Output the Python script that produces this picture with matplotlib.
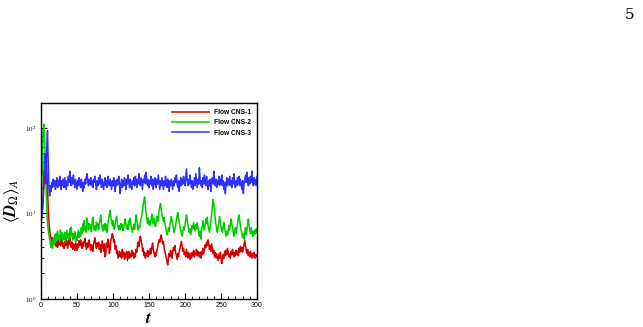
import numpy as np
import matplotlib
matplotlib.use("Agg")
import matplotlib.pyplot as plt
from matplotlib.ticker import LogLocator, MultipleLocator, FixedLocator

t = np.arange(0, 301, 1)

cns1 = [8, 9, 11, 14, 20, 28, 36, 42, 33, 20,
        12, 8, 6.5, 5.6, 5.0, 4.6, 5.2, 4.3, 4.9, 4.4,
        5.3, 4.1, 4.7, 4.0, 4.8, 4.3, 5.1, 4.2, 4.6, 5.4,
        4.1, 4.5, 3.9, 4.7, 4.2, 5.0, 4.4, 3.9, 4.8, 4.3,
        5.2, 4.5, 4.0, 4.6, 3.8, 4.4, 4.1, 3.7, 4.5, 4.0,
        3.7, 4.4, 4.0, 4.8, 4.2, 4.9, 4.3, 3.9, 4.6, 4.1,
        4.7, 5.1, 4.4, 3.8, 4.5, 4.0, 4.6, 4.9, 4.2, 3.7,
        4.3, 3.9, 3.6, 4.4, 4.8, 5.2, 4.3, 3.9, 4.5, 4.1,
        4.6, 3.8, 4.3, 3.5, 3.9, 4.8, 4.2, 3.6, 4.4, 3.1,
        3.4, 4.5, 4.0, 5.0, 4.4, 3.4, 3.8, 4.9, 5.2, 5.8,
        5.5, 4.6, 4.9, 3.8, 4.2, 3.4, 3.7, 3.0, 3.3, 3.6,
        3.1, 3.5, 3.0, 3.8, 3.2, 3.5, 2.9, 3.4, 3.1, 3.6,
        2.8, 3.2, 3.6, 3.0, 3.4, 3.1, 3.7, 3.2, 3.5, 3.0,
        3.4, 3.1, 3.8, 3.5, 4.2, 4.6, 4.1, 4.9, 5.4, 4.8,
        4.4, 3.6, 3.9, 3.2, 3.5, 3.0, 3.4, 3.2, 3.7, 3.1,
        3.6, 3.3, 3.9, 3.4, 4.1, 4.5, 3.8, 3.4, 3.1, 3.5,
        3.2, 3.7, 4.0, 4.5, 4.9, 4.6, 5.3, 5.6, 5.0, 4.4,
        4.7, 4.0, 3.6, 3.3, 3.0, 2.7, 2.5, 3.0, 3.4, 3.1,
        3.7, 3.3, 3.0, 3.6, 4.0, 3.7, 4.2, 3.5, 3.2, 2.9,
        3.4, 3.1, 3.6, 3.9, 4.3, 4.7, 4.1, 3.6, 3.9, 3.3,
        3.5, 3.1, 3.8, 3.3, 3.0, 3.5, 3.2, 2.9, 3.4, 3.0,
        3.5, 3.2, 3.7, 3.1, 3.5, 3.3, 3.8, 3.2, 3.6, 3.4,
        3.1, 3.5, 3.0, 3.6, 3.3, 3.9, 3.4, 3.8, 4.3, 4.0,
        4.6, 4.2, 4.9, 4.4, 3.8, 4.2, 3.6, 4.4, 3.9, 3.4,
        3.7, 3.1, 3.5, 3.0, 3.4, 3.1, 2.8, 3.3, 3.0, 3.5,
        3.1, 2.6, 2.9, 3.3, 3.0, 3.6, 3.2, 3.7, 3.3, 3.9,
        3.5, 3.1, 3.4, 3.0, 3.6, 3.3, 3.8, 3.4, 3.1, 3.5,
        3.2, 3.7, 3.3, 3.6, 3.2, 3.9, 3.5, 4.1, 3.6, 4.0,
        3.5, 3.9, 4.4, 4.8, 4.2, 3.7, 3.4, 3.8, 3.2, 3.5,
        3.1, 3.6, 3.3, 3.0, 3.4, 3.1, 3.5, 3.0, 3.3, 3.1,
        3.3]

cns2 = [10, 20, 45, 90, 110, 75, 40, 20, 12, 8,
        6.5, 5.5, 5.0, 4.4, 4.0, 4.6, 3.9, 5.0, 4.3, 5.6,
        4.6, 5.8, 4.8, 6.2, 5.0, 5.5, 4.7, 6.4, 5.2, 5.9,
        4.8, 5.6, 5.0, 6.0, 4.6, 5.4, 6.3, 5.1, 5.8, 4.9,
        6.6, 5.4, 6.9, 5.6, 4.9, 5.8, 5.1, 6.1, 4.6, 5.3,
        4.8, 5.7, 6.3, 5.2, 6.0, 5.4, 6.8, 5.8, 7.5, 6.2,
        8.2, 6.5, 7.0, 6.0, 8.8, 7.2, 6.4, 7.6, 6.6, 7.3,
        6.1, 7.8, 9.0, 7.2, 6.4, 7.1, 6.3, 7.9, 6.8, 7.5,
        6.4, 7.6, 8.5, 9.5, 7.8, 6.9, 6.2, 7.3, 6.5, 7.6,
        6.3, 7.4, 6.0, 7.8, 8.6, 9.8, 10.8, 9.0, 8.0, 7.2,
        8.2, 7.0, 6.5, 7.6, 8.4, 9.3, 7.6, 7.0, 6.4, 7.2,
        6.5, 7.6, 6.8, 7.4, 6.3, 7.0, 8.0, 8.6, 7.2, 6.6,
        7.3, 6.5, 8.2, 7.4, 8.8, 7.2, 6.6, 6.0, 6.8, 7.4,
        6.5, 8.0, 9.6, 8.2, 7.4, 6.4, 7.2, 6.8, 7.8, 8.6,
        9.5, 11.0, 12.5, 14.5, 15.5, 12.0, 10.0, 8.6, 7.6, 8.8,
        7.4, 8.2, 7.2, 8.6, 9.8, 8.4, 7.6, 8.8, 7.4, 7.0,
        7.8, 9.2, 8.0, 9.0, 10.8, 12.0, 13.0, 11.0, 9.6, 8.8,
        8.0, 9.0, 7.6, 7.0, 6.2, 5.6, 6.0, 6.8, 6.2, 7.4,
        8.0, 9.2, 8.2, 7.4, 6.6, 6.0, 6.6, 7.2, 8.4, 9.4,
        10.2, 9.0, 7.8, 7.0, 6.4, 5.8, 5.4, 6.2, 7.0, 6.4,
        7.4, 8.4, 9.6, 8.6, 7.4, 6.6, 6.0, 6.6, 5.6, 6.4,
        7.2, 6.6, 7.8, 7.0, 6.2, 7.4, 6.6, 7.8, 6.8, 6.0,
        5.4, 6.2, 5.0, 6.4, 7.2, 8.2, 7.0, 6.4, 7.4, 8.6,
        7.6, 9.0, 7.2, 6.6, 6.0, 6.8, 8.4, 9.8, 12.0, 14.5,
        13.0, 10.4, 8.6, 7.4, 6.6, 6.0, 7.0, 7.8, 9.2, 8.0,
        7.0, 6.4, 6.0, 7.0, 7.8, 6.6, 6.0, 5.4, 6.2, 5.6,
        6.4, 7.2, 6.4, 7.6, 8.6, 7.4, 6.8, 6.0, 5.4, 6.2,
        6.8, 5.8, 6.6, 7.6, 8.8, 9.6, 8.2, 7.0, 6.4, 5.8,
        5.2, 5.8, 5.0, 6.0, 6.8, 5.6, 6.4, 7.6, 8.6, 7.2,
        6.4, 5.8, 6.8, 6.0, 5.4, 6.2, 5.6, 6.4, 5.8, 6.6,
        6.0]

cns3 = [8, 9, 11, 16, 28, 50, 40, 22, 60, 92,
        45, 20, 16, 21, 18, 23, 20, 25, 21, 24,
        19, 23, 26, 20, 24, 21, 27, 22, 19, 24,
        21, 25, 20, 26, 22, 19, 24, 21, 27, 23,
        31, 25, 21, 26, 22, 28, 23, 20, 25, 22,
        19, 24, 21, 26, 22, 20, 25, 22, 18, 23,
        20, 25, 22, 27, 29, 23, 21, 25, 22, 26,
        21, 24, 20, 25, 23, 27, 22, 19, 24, 21,
        26, 22, 28, 24, 20, 25, 22, 19, 23, 26,
        21, 24, 20, 27, 23, 21, 25, 22, 19, 24,
        21, 26, 22, 18, 24, 21, 25, 22, 27, 21,
        17, 22, 25, 20, 24, 21, 26, 23, 19, 25,
        22, 28, 23, 20, 25, 21, 19, 24, 22, 26,
        21, 27, 24, 20, 25, 22, 29, 23, 21, 26,
        22, 19, 25, 23, 28, 22, 30, 24, 21, 25,
        20, 24, 22, 27, 21, 25, 19, 23, 26, 22,
        20, 25, 22, 28, 23, 19, 24, 21, 26, 22,
        19, 24, 21, 27, 22, 20, 25, 22, 18, 24,
        21, 25, 22, 19, 24, 21, 26, 23, 28, 22,
        20, 24, 18, 22, 26, 21, 25, 22, 27, 23,
        21, 26, 33, 24, 21, 25, 22, 28, 23, 20,
        24, 19, 22, 26, 21, 29, 24, 20, 25, 22,
        34, 25, 21, 24, 20, 26, 22, 28, 23, 21,
        27, 22, 19, 24, 21, 25, 18, 23, 26, 22,
        31, 24, 21, 25, 20, 24, 22, 27, 21, 25,
        22, 28, 21, 24, 19, 23, 17, 22, 26, 21,
        25, 22, 27, 21, 24, 20, 26, 22, 29, 23,
        20, 24, 21, 26, 22, 27, 21, 25, 22, 19,
        24, 17, 22, 25, 28, 23, 30, 24, 21, 26,
        22, 27, 23, 31, 24, 21, 26, 22, 25, 21,
        27]

labels = ["Flow CNS-1", "Flow CNS-2", "Flow CNS-3"]
colors = ["#d40000", "#00cc00", "#3030ff"]

plt.rcParams['mathtext.fontset'] = 'stix'
fig = plt.figure(figsize=(6.43, 3.27), dpi=100)
ax = fig.add_axes([41/643, 28/327, 216/643, 196/327])

for y, lab, c in zip([cns1, cns2, cns3], labels, colors):
    ax.plot(t, y, color=c, lw=1.1, label=lab)

ax.set_yscale('log')
ax.set_xlim(0, 300)
ax.set_ylim(1, 194)
ax.xaxis.set_major_locator(MultipleLocator(50))
ax.xaxis.set_minor_locator(MultipleLocator(10))
ax.yaxis.set_major_locator(FixedLocator([1, 10, 100]))
ax.yaxis.set_minor_locator(LogLocator(base=10, subs=np.arange(2, 10)))
ax.set_yticklabels([r'$10^0$', r'$10^1$', r'$10^2$'])
ax.tick_params(axis='both', which='both', direction='in', labelsize=5, top=False, right=False)
ax.tick_params(which='major', length=4, width=0.8)
ax.tick_params(which='minor', length=2.5, width=0.6)
ax.tick_params(axis='x', pad=2)
for lab in ax.get_xticklabels() + ax.get_yticklabels():
    lab.set_fontfamily('Liberation Sans')
for s in ax.spines.values():
    s.set_linewidth(1.0)

ax.set_xlabel(r'$\boldsymbol{t}$', fontsize=13, labelpad=0)
ax.set_ylabel(r'$\langle \boldsymbol{D}_{\Omega} \rangle_A$', fontsize=12, labelpad=2)

leg = ax.legend(loc='upper right', frameon=False, fontsize=4.8, handlelength=5.5,
                handletextpad=0.8, labelspacing=0.5, borderaxespad=0.5)
for txt in leg.get_texts():
    txt.set_fontweight('bold')
    txt.set_fontfamily('Liberation Sans')

fig.text(630/643, 1 - 15/327, '5', fontsize=11, family='DejaVu Serif', ha='center', va='center')

fig.savefig('out.png', dpi=100)
